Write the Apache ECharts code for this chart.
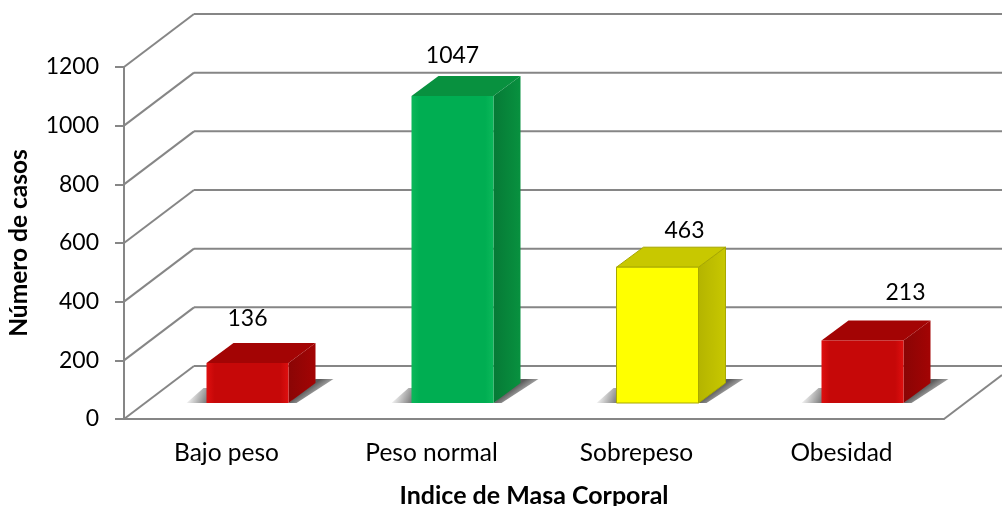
<!DOCTYPE html>
<html>
<head>
<meta charset="utf-8">
<style>
  html, body { margin: 0; padding: 0; background: #fff; }
  #chart { width: 1002px; height: 506px; }
</style>
<script src="https://cdn.jsdelivr.net/npm/echarts@6/dist/echarts.min.js"></script>
</head>
<body>
<div id="chart"></div>
<script>
const categories = ['Bajo peso', 'Peso normal', 'Sobrepeso', 'Obesidad']
const casos = [136, 1047, 463, 213]
const yTicks = [0, 200, 400, 600, 800, 1000, 1200]

// caras de cada barra: frente claro, frente medio, arriba, lado
const faces = [
  ['#de0f0f', '#c60808', '#a30404', '#8a0505'],
  ['#0bb85a', '#00ae52', '#08913f', '#067a36'],
  ['#ffff00', '#ffff00', '#c8c800', '#b4b400'],
  ['#de0f0f', '#c60808', '#a30404', '#8a0505']
]
// las etiquetas estan colocadas a mano en el original
const labelShift = [[0, -45], [0, -40], [27, -37], [43, -48]]

const depthX = 70
const depthY = 53
const barFrontX = 21
const barFrontY = 16
const barDepthX = 27
const barDepthY = 20
const barWidth = 82
const lineColor = '#868686'
const font = 'Lato, "Open Sans", sans-serif'

function poly(points, fill, stroke) {
  return {
    type: 'polygon',
    shape: { points },
    style: { fill, stroke: stroke || null, lineWidth: stroke ? 1 : 0 }
  }
}

function renderWall(params, api) {
  const rect = params.coordSys
  const y = api.coord([0, api.value(0)])[1]
  const left = rect.x
  const right = rect.x + rect.width
  const style = { stroke: lineColor, lineWidth: 2 }
  const children = [
    { type: 'line', shape: { x1: left, y1: y, x2: left + depthX, y2: y - depthY }, style },
    { type: 'line', shape: { x1: left + depthX, y1: y - depthY, x2: api.getWidth(), y2: y - depthY }, style }
  ]
  if (api.value(0) === 0) {
    children.push({
      type: 'line',
      shape: { x1: right, y1: y, x2: api.getWidth(), y2: y - depthY * (api.getWidth() - right) / depthX },
      style
    })
  }
  return { type: 'group', children }
}

function renderBar(params, api) {
  const i = api.value(0)
  const top = api.coord([i, api.value(1)])
  const base = api.coord([i, 0])
  const c = faces[i]
  const x0 = top[0] + barFrontX - barWidth / 2
  const x1 = x0 + barWidth
  const yt = top[1] - barFrontY
  const yb = base[1] - barFrontY
  const dx = barDepthX
  const dy = barDepthY
  const edge = c[0] === c[1] ? '#a8a800' : null

  const frontFill = new echarts.graphic.LinearGradient(0, 0, 1, 0, [
    { offset: 0, color: c[0] },
    { offset: 0.1, color: c[1] },
    { offset: 0.9, color: c[1] },
    { offset: 1, color: c[0] }
  ])
  const sideFill = new echarts.graphic.LinearGradient(0, 0, 1, 0, [
    { offset: 0, color: c[3] },
    { offset: 1, color: c[2] }
  ])
  // sombra difusa a los dos lados de la base
  const shadowLeft = poly(
    [[x0 - 20, yb], [x0 + 2, yb], [x0 + 2, yb - 15], [x0 - 3, yb - 15]],
    new echarts.graphic.LinearGradient(0, 0, 1, 0.6, [
      { offset: 0.15, color: 'rgba(110,110,110,0)' },
      { offset: 1, color: 'rgba(100,100,100,0.85)' }
    ])
  )
  const shadowRight = poly(
    [[x1, yb], [x1 + dx, yb - dy - 4], [x1 + dx + 18, yb - dy - 4], [x1 + 8, yb]],
    new echarts.graphic.LinearGradient(x1 + dx, yb - dy, x1 + dx + 8, yb - dy + 11, [
      { offset: 0, color: 'rgba(85,85,85,0.95)' },
      { offset: 0.5, color: 'rgba(110,110,110,0.7)' },
      { offset: 1, color: 'rgba(140,140,140,0)' }
    ], true)
  )
  const label = {
    type: 'text',
    style: {
      x: x0 + barWidth / 2 + labelShift[i][0],
      y: yt + labelShift[i][1],
      text: String(api.value(1)),
      fill: '#000',
      font: '23px ' + font,
      align: 'center',
      verticalAlign: 'middle'
    }
  }
  return {
    type: 'group',
    children: [
      shadowLeft,
      shadowRight,
      poly([[x1, yt], [x1 + dx, yt - dy], [x1 + dx, yb - dy], [x1, yb]], sideFill, edge),
      poly([[x0, yt], [x0 + dx, yt - dy], [x1 + dx, yt - dy], [x1, yt]], c[2], edge),
      poly([[x0, yt], [x1, yt], [x1, yb], [x0, yb]], frontFill, edge),
      label
    ]
  }
}

const chart = echarts.init(document.getElementById('chart'), null, { renderer: 'canvas' })
chart.setOption({
  animation: false,
  backgroundColor: '#fff',
  grid: { left: 124, right: 58, top: 67, bottom: 87, outerBoundsMode: 'none' },
  xAxis: {
    type: 'category',
    data: categories,
    name: 'Indice de Masa Corporal',
    nameLocation: 'middle',
    nameGap: 64,
    nameTextStyle: { color: '#000', fontFamily: font, fontWeight: 'bold', fontSize: 25 },
    axisLine: { lineStyle: { color: lineColor, width: 2 } },
    axisTick: { show: false },
    axisLabel: { color: '#000', fontFamily: font, fontSize: 24.5, margin: 22 }
  },
  yAxis: {
    type: 'value',
    min: 0,
    max: 1200,
    interval: 200,
    name: 'Número de casos',
    nameLocation: 'middle',
    nameGap: 92,
    nameTextStyle: { color: '#000', fontFamily: font, fontWeight: 'bold', fontSize: 24.5 },
    axisLine: { show: true, lineStyle: { color: lineColor, width: 2 } },
    axisTick: { show: true, length: 9, lineStyle: { color: lineColor, width: 2 } },
    axisLabel: { color: '#000', fontFamily: font, fontSize: 23, margin: 25, formatter: (v) => String(v) },
    splitLine: { show: false }
  },
  series: [
    {
      type: 'custom',
      name: 'paredes',
      renderItem: renderWall,
      encode: { y: 0 },
      data: yTicks.map((t) => [t]),
      silent: true,
      z: 1
    },
    {
      type: 'custom',
      name: 'Número de casos',
      renderItem: renderBar,
      encode: { x: 0, y: 1 },
      data: casos.map((v, i) => [i, v]),
      z: 2
    }
  ]
})
</script>
</body>
</html>
